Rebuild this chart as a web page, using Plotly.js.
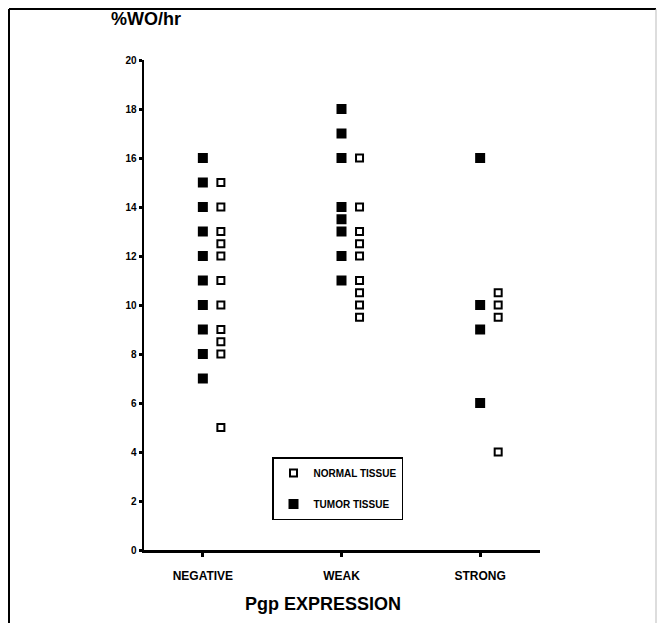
<!DOCTYPE html>
<html>
<head>
<meta charset="utf-8">
<script src="https://cdn.plot.ly/plotly-3.0.1.min.js"></script>
<style>html,body{margin:0;padding:0;background:#fff;}#chart{width:661px;height:623px;}</style>
</head>
<body>
<div id="chart"></div>
<script>
const categories = ["NEGATIVE", "WEAK", "STRONG"];
const tumorNegative = [16, 15, 14, 13, 12, 11, 10, 9, 8, 7];
const normalNegative = [15, 14, 13, 12.5, 12, 11, 10, 9, 8.5, 8, 5];
const tumorWeak = [18, 17, 16, 14, 13.5, 13, 12, 11];
const normalWeak = [16, 14, 13, 12.5, 12, 11, 10.5, 10, 9.5];
const tumorStrong = [16, 10, 9, 6];
const normalStrong = [10.5, 10, 9.5, 4];
const yTicks = [0, 2, 4, 6, 8, 10, 12, 14, 16, 18, 20];

const tumorSets = [tumorNegative, tumorWeak, tumorStrong];
const normalSets = [normalNegative, normalWeak, normalStrong];
const normalOffset = 0.13;

function build(sets, offset) {
  const xs = [], ys = [];
  sets.forEach((vals, i) => vals.forEach(v => { xs.push(i + 1 + offset); ys.push(v); }));
  return {xs, ys};
}
const t = build(tumorSets, 0);
const n = build(normalSets, normalOffset);

const FONT = "Liberation Sans, Arial, Helvetica, sans-serif";
const NARROW = "Liberation Sans Narrow, Liberation Sans, Arial, sans-serif";

const traces = [
  {x: n.xs, y: n.ys, type: "scatter", mode: "markers", name: "NORMAL TISSUE",
   legendgroup: "a",
   marker: {symbol: "square", size: 7, color: "#fff", line: {color: "#000", width: 2}},
   cliponaxis: false},
  {x: t.xs, y: t.ys, type: "scatter", mode: "markers", name: "TUMOR TISSUE",
   legendgroup: "b",
   marker: {symbol: "square", size: 10, color: "#000", line: {color: "#000", width: 0}},
   cliponaxis: false}
];

const L = 144, R = 540, T = 60, B = 550;
const W = R - L, H = B - T;
const px = v => (v - L) / W;
const py = v => (B - v) / H;

const layout = {
  width: 661, height: 623,
  margin: {l: L, r: 661 - R, t: T, b: 623 - B, pad: 0},
  paper_bgcolor: "#fff", plot_bgcolor: "#fff",
  font: {family: FONT, color: "#000"},
  showlegend: true,
  legend: {
    x: px(272), y: py(457), xanchor: "left", yanchor: "top",
    bgcolor: "#fff", bordercolor: "#000", borderwidth: 1.5,
    font: {family: NARROW, size: 10, color: "#000", weight: "bold"},
    tracegroupgap: 12, itemwidth: 30, traceorder: "grouped"
  },
  xaxis: {
    range: [1 - 59 / 139, 3 + 60 / 139],
    tickmode: "array", tickvals: [1, 2, 3], ticktext: categories,
    showgrid: false, zeroline: false,
    showline: true, linecolor: "#000", linewidth: 2.5,
    ticks: "outside", ticklen: 4, tickwidth: 3, tickcolor: "#000",
    ticklabelstandoff: 9,
    tickfont: {family: NARROW, size: 12, color: "#000", weight: "bold"}
  },
  yaxis: {
    range: [0, 20],
    tickmode: "array", tickvals: yTicks,
    showgrid: false, zeroline: false,
    showline: true, linecolor: "#000", linewidth: 2.5,
    ticks: "outside", ticklen: 3, tickwidth: 3, tickcolor: "#000",
    tickfont: {family: FONT, size: 10, color: "#000", weight: "bold"}
  },
  annotations: [
    {text: "%WO/hr", xref: "paper", yref: "paper", x: px(109), y: py(19),
     xanchor: "left", yanchor: "middle", showarrow: false,
     font: {family: FONT, size: 18, color: "#000", weight: "bold"}},
    {text: "Pgp EXPRESSION", xref: "paper", yref: "paper", x: px(323), y: py(604),
     xanchor: "center", yanchor: "middle", showarrow: false,
     font: {family: FONT, size: 18, color: "#000", weight: "bold"}}
  ],
  shapes: [
    {type: "line", xref: "paper", yref: "paper", x0: px(9), x1: px(9), y0: py(9), y1: py(623),
     line: {color: "#000", width: 2}},
    {type: "line", xref: "paper", yref: "paper", x0: px(9), x1: px(656), y0: py(9), y1: py(9),
     line: {color: "#000", width: 2}},
    {type: "line", xref: "paper", yref: "paper", x0: px(656), x1: px(656), y0: py(9), y1: py(623),
     line: {color: "#bbb", width: 1}}
  ]
};

Plotly.newPlot("chart", traces, layout, {displayModeBar: false, staticPlot: true});
</script>
</body>
</html>
